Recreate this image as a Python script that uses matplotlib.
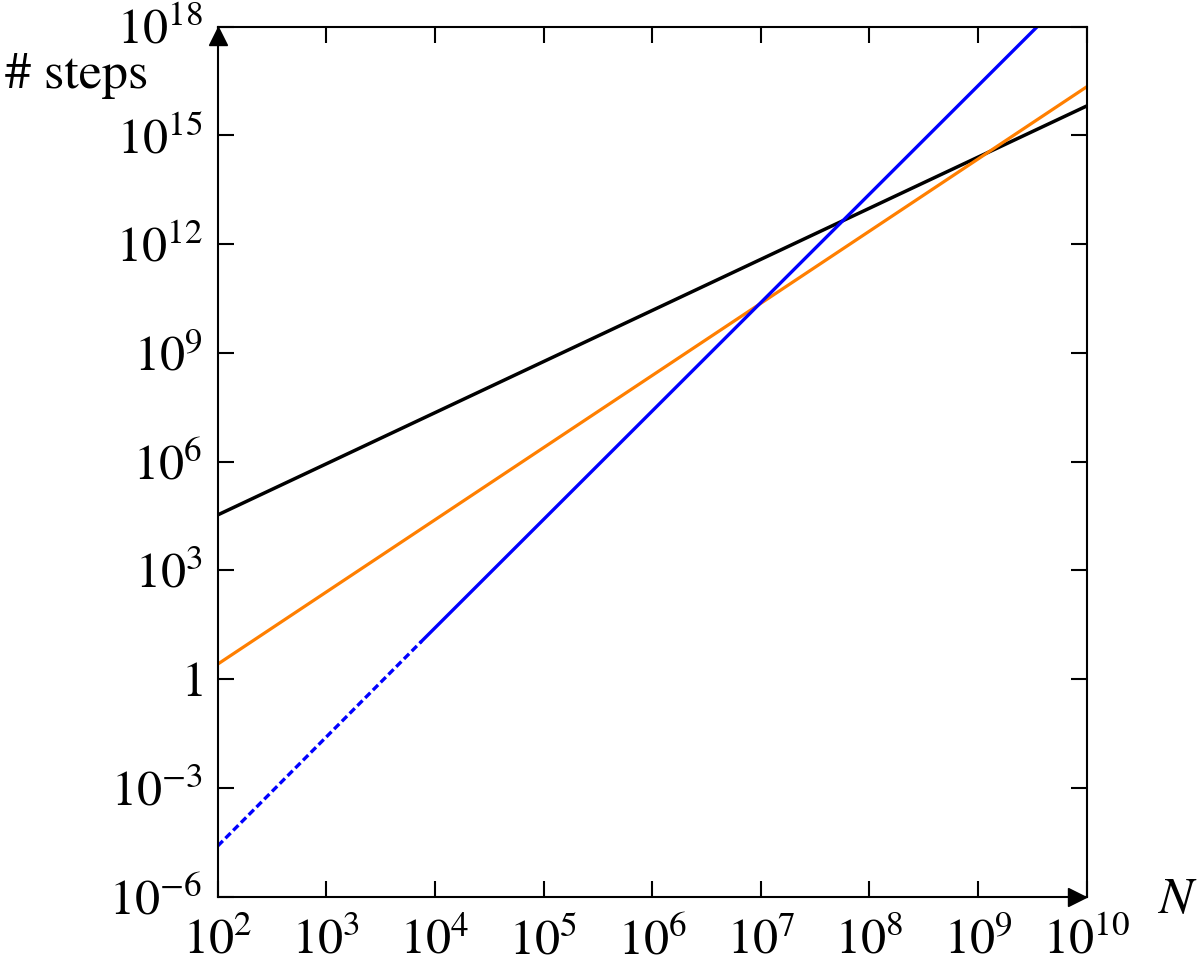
import matplotlib
matplotlib.use("Agg")
import matplotlib.pyplot as plt
import numpy as np

plt.rcParams['mathtext.fontset'] = 'stix'
plt.rcParams['font.family'] = ['STIXGeneral', 'DejaVu Serif']

# Data (endpoints of straight lines on log-log axes)
black_N = [1e2, 1e10]
black_steps = [3.4e4, 6.5e15]
orange_N = [1e2, 1e10]
orange_steps = [2.6, 2.2e16]
blue_dash_N = [1e2, 7.5e3]
blue_dash_steps = [2.5e-5, 1.1e1]
blue_solid_N = [7.5e3, 3.5e9]
blue_solid_steps = [1.1e1, 1e18]

x_ticks = [1e2, 1e3, 1e4, 1e5, 1e6, 1e7, 1e8, 1e9, 1e10]
x_labels = [r'$10^{2}$', r'$10^{3}$', r'$10^{4}$', r'$10^{5}$', r'$10^{6}$',
            r'$10^{7}$', r'$10^{8}$', r'$10^{9}$', r'$10^{10}$']
y_ticks = [1e-6, 1e-3, 1, 1e3, 1e6, 1e9, 1e12, 1e15, 1e18]
y_labels = [r'$10^{-6}$', r'$10^{-3}$', r'$1$', r'$10^{3}$', r'$10^{6}$',
            r'$10^{9}$', r'$10^{12}$', r'$10^{15}$', r'$10^{18}$']

fig = plt.figure(figsize=(12, 9.64), dpi=100)
ax = fig.add_axes([0.1814, 0.0698, 0.7242, 0.9025])

ax.plot(black_N, black_steps, color='black', lw=2.5)
ax.plot(orange_N, orange_steps, color='#ff7f00', lw=2.3)
ax.plot(blue_dash_N, blue_dash_steps, color='#0000ff', lw=2.4, ls=(0, (2.2, 1.1)))
ax.plot(blue_solid_N, blue_solid_steps, color='#0000ff', lw=2.4)

ax.set_xscale('log')
ax.set_yscale('log')
ax.set_xlim(1e2, 1e10)
ax.set_ylim(1e-6, 1e18)

ax.set_xticks(x_ticks)
ax.set_xticklabels(x_labels)
ax.set_yticks(y_ticks)
ax.set_yticklabels(y_labels)
ax.minorticks_off()

ax.tick_params(axis='both', which='major', direction='in', length=11.5, width=1.5,
               top=True, right=True, labelsize=36)
ax.tick_params(axis='x', pad=16)
ax.tick_params(axis='y', pad=11)
for s in ax.spines.values():
    s.set_linewidth(1.5)

# axis arrows
ax.plot(0, 0.989, marker='^', color='black', ms=13, transform=ax.transAxes, clip_on=False)
ax.plot(0.989, 0, marker='>', color='black', ms=13, transform=ax.transAxes, clip_on=False)

fig.text(5 / 1200, 1 - 88 / 964, '# steps', fontsize=37.5, ha='left', va='baseline')
fig.text(1158 / 1200, 1 - 913 / 964, 'N', fontsize=37, style='italic', ha='left', va='baseline')

fig.savefig('out.png', dpi=100)
